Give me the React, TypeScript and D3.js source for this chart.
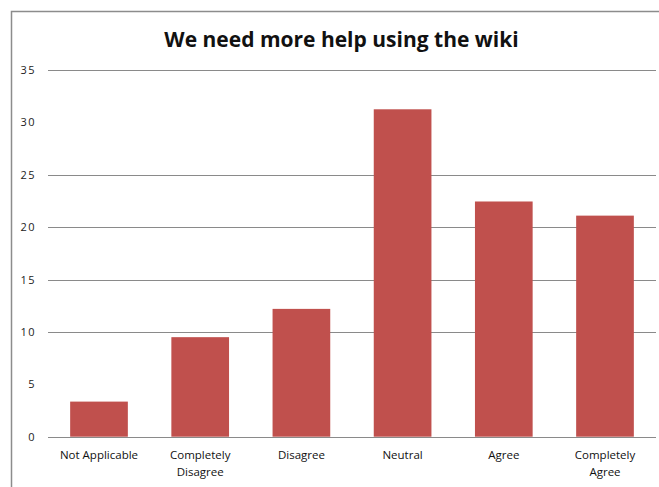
import React from 'react';
import * as d3 from 'd3';

const categories = ['Not Applicable', 'Completely Disagree', 'Disagree', 'Neutral', 'Agree', 'Completely Agree'];
const categoryLines = [['Not Applicable'], ['Completely', 'Disagree'], ['Disagree'], ['Neutral'], ['Agree'], ['Completely', 'Agree']];
const values = [3.35, 9.5, 12.2, 31.25, 22.45, 21.1];
const yTicks = [0, 5, 10, 15, 20, 25, 30, 35];
// gridlines at 5 and 30 are not visible in the reference picture
const gridTicks = [0, 10, 15, 20, 25, 35];

const W = 659;
const H = 487;
const FONT = '"Open Sans", "DejaVu Sans", sans-serif';

export default function App() {
    const x = d3.scaleBand<string>().domain(categories).range([48.4, 655.6]).paddingInner(0.43).paddingOuter(0.215);
    const y = d3.scaleLinear().domain([0, 35]).range([436.7, 70]);

    return (
        <div style={{ position: 'absolute', left: 0, top: 0 }}>
            <svg width={W} height={H} style={{ display: 'block', background: '#fff' }}>
                {/* chart area border, cut off at the right and bottom */}
                <rect x={11.5} y={11.5} width={W + 20} height={H + 20} fill="#fff" stroke="#8c8c8c" strokeWidth={1.5} />

                <text x={341.5} y={47} textAnchor="middle" fontFamily={FONT} fontWeight={700} fontSize={21} fill="#111">
                    We need more help using the wiki
                </text>

                {gridTicks.map((t) => (
                    <line key={t} x1={48} x2={656} y1={Math.round(y(t)) + 0.5} y2={Math.round(y(t)) + 0.5} stroke="#8a8a8a" strokeWidth={1} />
                ))}

                {yTicks.map((t) => (
                    <text key={t} x={36} y={y(t) + 4} textAnchor="end" fontFamily={FONT} fontSize={11} letterSpacing={1.5} fill="#222">
                        {t}
                    </text>
                ))}

                {categories.map((c, i) => (
                    <rect key={c} x={x(c)} y={y(values[i])} width={x.bandwidth()} height={y(0) - y(values[i])} fill="#C0504D" />
                ))}

                {categories.map((c, i) => (
                    <text key={c} x={(x(c) ?? 0) + x.bandwidth() / 2} y={459} textAnchor="middle" fontFamily={FONT} fontSize={11.5} fill="#111">
                        {categoryLines[i].map((line, j) => (
                            <tspan key={j} x={(x(c) ?? 0) + x.bandwidth() / 2} dy={j === 0 ? 0 : 16.5}>
                                {line}
                            </tspan>
                        ))}
                    </text>
                ))}
            </svg>
        </div>
    );
}
